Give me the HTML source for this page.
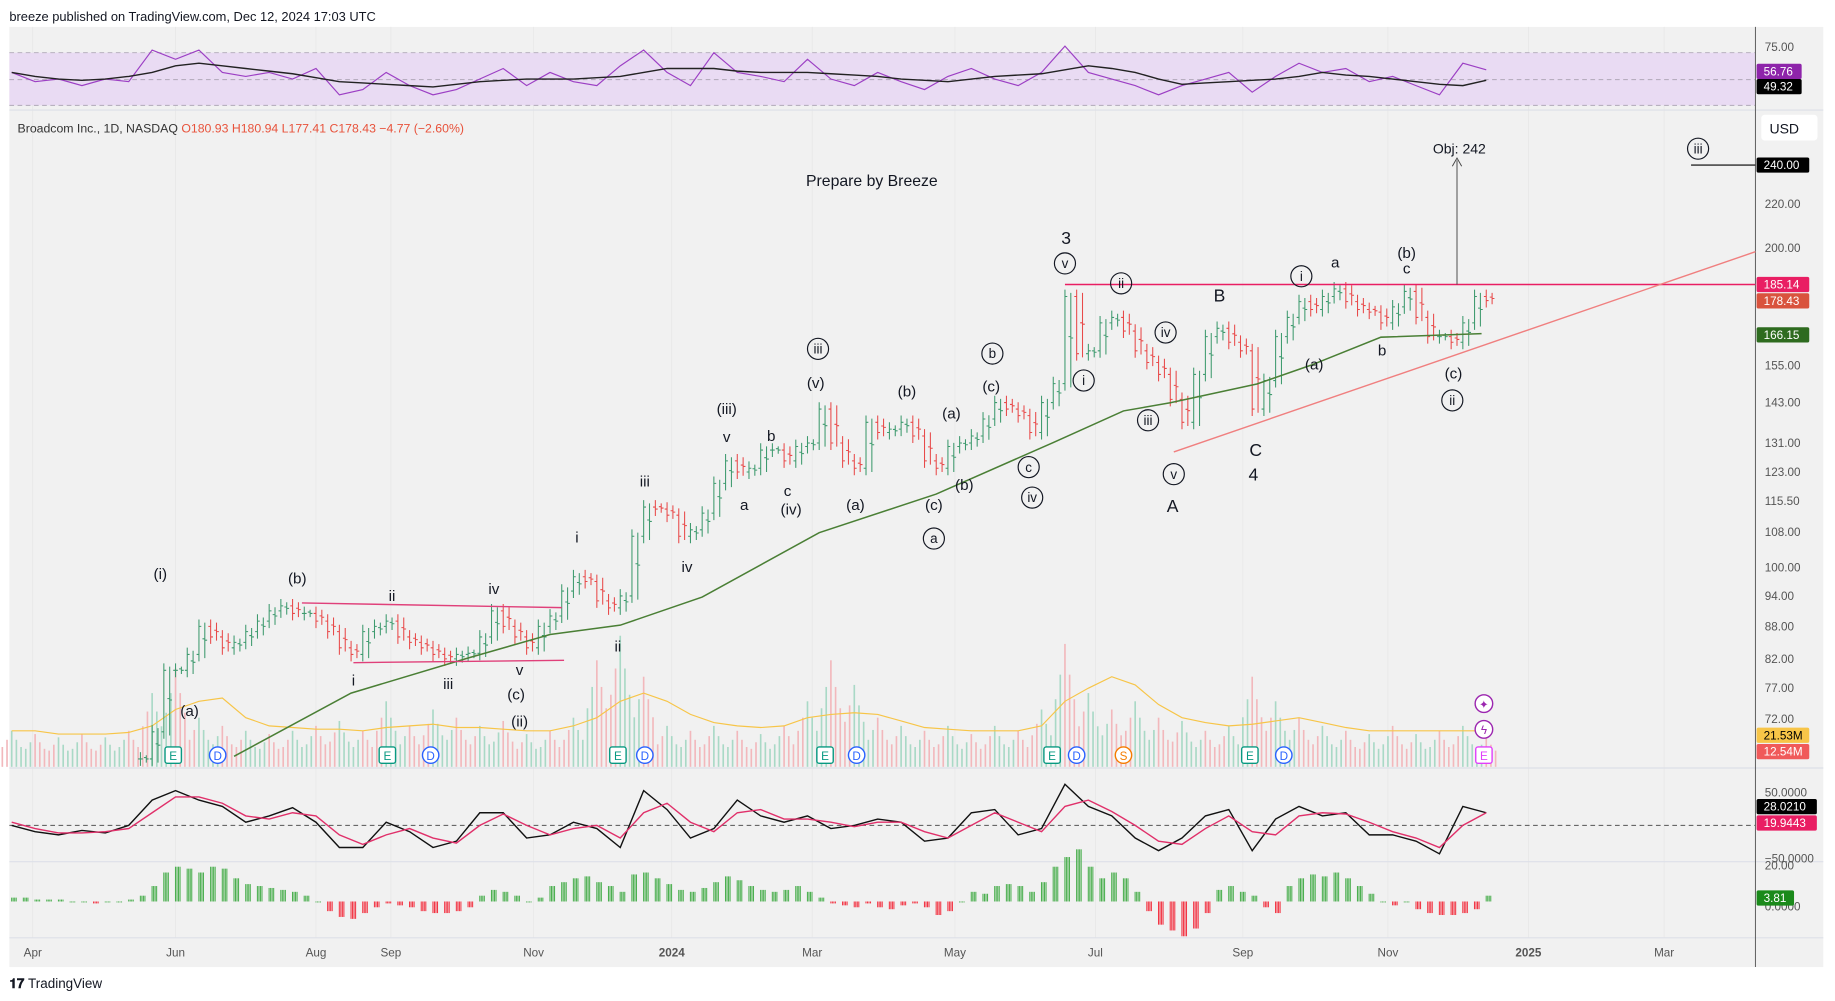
<!DOCTYPE html>
<html><head><meta charset="utf-8"><style>
html,body{margin:0;padding:0;background:#fff;width:1835px;height:1001px;overflow:hidden}
svg{display:block}
text{font-family:"Liberation Sans",sans-serif}
</style></head><body>
<svg id="c" width="1835" height="1001" viewBox="0 0 1568 855" preserveAspectRatio="none" xmlns="http://www.w3.org/2000/svg">
<rect x="0" y="0" width="1568" height="855" fill="#ffffff"/>
<text x="8" y="18" font-size="11" fill="#131722">breeze published on TradingView.com, Dec 12, 2024 17:03 UTC</text>
<rect x="8" y="23" width="1550" height="803" fill="#f1f1f1"/>
<g id="grid"></g>
<rect x="8" y="45" width="1492" height="45" fill="#e9dbf3"/>
<line x1="8" y1="45" x2="1500" y2="45" stroke="#b0a8b8" stroke-dasharray="4,3" stroke-width="0.8"/>
<line x1="8" y1="68" x2="1500" y2="68" stroke="#b0a8b8" stroke-dasharray="4,3" stroke-width="0.8"/>
<line x1="8" y1="90" x2="1500" y2="90" stroke="#b0a8b8" stroke-dasharray="4,3" stroke-width="0.8"/>
<line x1="8" y1="94" x2="1558" y2="94" stroke="#dde0e8" stroke-width="1"/>
<line x1="8" y1="656" x2="1558" y2="656" stroke="#dde0e8" stroke-width="1"/>
<line x1="8" y1="736" x2="1558" y2="736" stroke="#dde0e8" stroke-width="1"/>
<line x1="8" y1="801" x2="1558" y2="801" stroke="#dde0e8" stroke-width="1"/>
<line x1="1500" y1="23" x2="1500" y2="826" stroke="#555" stroke-width="0.8"/>
<line x1="8" y1="705" x2="1500" y2="705" stroke="#555" stroke-dasharray="4,3" stroke-width="0.8"/>
<g id="vol"></g><g id="rsi"></g><g id="price"></g><g id="osc"></g><g id="hist"></g>
<g id="draw">
<line x1="258" y1="515" x2="480" y2="519" stroke="#e0407a" stroke-width="1.2"/>
<line x1="302" y1="566" x2="482" y2="564" stroke="#e0407a" stroke-width="1.2"/>
<line x1="910" y1="243" x2="1500" y2="243" stroke="#e91e63" stroke-width="1.2"/>
<line x1="1003" y1="386" x2="1500" y2="215" stroke="#f07f7f" stroke-width="1.2"/>
<line x1="1245" y1="243" x2="1245" y2="137" stroke="#444" stroke-width="0.8"/>
<path d="M1241,142 L1245,135 L1249,142" fill="none" stroke="#444" stroke-width="0.8"/>
<line x1="1445" y1="141" x2="1500" y2="141" stroke="#000" stroke-width="1"/>
</g>
<g id="labels" font-size="13" fill="#131722" text-anchor="middle"></g>
<g id="axis" font-size="10" fill="#555"></g>
<text x="15" y="113" font-size="10.5" fill="#333">Broadcom Inc., 1D, NASDAQ <tspan fill="#e8523b">O180.93 H180.94 L177.41 C178.43 −4.77 (−2.60%)</tspan></text>
<text x="745" y="159" font-size="13.5" text-anchor="middle" fill="#131722">Prepare by Breeze</text>
<text x="1247" y="131" font-size="12" text-anchor="middle" fill="#131722">Obj: 242</text>
<rect x="1505" y="98" width="48" height="22" rx="3" fill="#fff"/>
<text x="1512" y="114" font-size="12" fill="#131722">USD</text>
<g id="events"></g>
<text x="8" y="844" font-size="11.5" font-weight="bold" fill="#131722">𝟏𝟕 <tspan font-weight="normal">TradingView</tspan></text>
</svg>
<script>
const NS='http://www.w3.org/2000/svg';
function mk(tag,attrs,parent){const e=document.createElementNS(NS,tag);for(const k in attrs)e.setAttribute(k,attrs[k]);document.getElementById(parent).appendChild(e);return e;}
// ---- data ----
const priceStartDay=-227, priceStepDays=5;
const closes=[66,70,80,80,82.8,88,86,84,85,87,89,91,92,90.5,90.5,89,87,84,82.8,87,88,89,86,85,84,82.8,82,82.8,83,86,91,88,86,84,88,90,95,98,97,93,91.6,94,107,114,113.5,112,107,108.5,112.5,120,126,123,124,129,129,126,130,131,141,131,126,124,137,134,135,137,133,126,124,130,131,133,138,143,141,139,134,143,149,180,159,160,170,172,167,160,156,152,144,137,152,165,168,163,160,141,150,165,172,178,175,180,183,178,175,174,170,176,182,172,165,165,163,170,180,178.43];
const maPoints=[[-187,646],[-137,592],[-87,562],[-52,542],[-22,534],[13,510],[63,455],[113,422],[163,378],[193,351],[213,344],[250,328],[273,312],[303,288],[346,285]];
const maValues=maPoints.map(p=>240*Math.exp(-(p[1]-140)/393.7));
const seriesStartDay=-282, seriesStepDays=10;
const volumes=[22,20,18,20,18,22,45,60,30,25,22,20,22,25,28,22,40,25,35,30,25,28,20,22,30,65,80,55,25,22,25,22,20,25,40,65,50,30,25,22,25,20,25,22,35,75,45,35,40,30,28,22,25,55,40,30,25,22,20,25,20,22,25,18];
const volumeMA=[22,22,20,20,20,21,25,35,40,42,30,25,24,23,23,22,24,25,26,24,24,23,22,22,25,30,40,45,40,32,27,25,24,25,30,32,33,32,28,24,23,22,22,22,25,40,48,55,50,38,30,27,25,26,28,30,27,24,22,22,22,22,22,22];
const rsi=[55,48,50,45,50,48,72,65,72,55,52,55,50,58,38,42,55,45,38,42,50,58,45,55,48,45,60,72,55,45,70,55,52,48,65,50,45,55,48,42,52,58,50,45,55,75,55,50,45,38,45,50,55,40,52,62,55,58,48,52,45,38,62,57];
const rsiMA=[55,52,50,49,50,52,55,60,62,60,58,56,54,51,48,47,46,45,44,46,48,49,50,50,50,51,52,55,58,58,58,56,55,55,55,54,53,52,50,49,48,50,52,53,54,57,60,58,55,50,46,47,48,49,50,52,55,53,52,50,48,46,45,49];
const oscK=[0,-10,-15,-8,-12,0,40,55,40,30,5,15,28,5,-35,-35,5,-10,-35,-25,20,20,-20,-15,5,-5,-35,55,25,-20,-5,40,15,5,15,-5,0,10,5,-25,-20,20,25,-15,-5,65,30,15,-20,-40,-20,15,25,-40,10,30,15,20,-15,-15,-25,-45,30,20];
const oscD=[5,-5,-12,-12,-10,-5,20,45,45,35,15,10,20,15,-15,-30,-15,-5,-20,-28,0,18,0,-15,-5,0,-20,20,35,5,-10,20,25,10,10,5,-2,5,5,-10,-20,0,20,5,-10,30,40,22,0,-25,-30,-5,15,-10,-15,15,20,18,5,-10,-20,-35,0,20];
const histStepDays=5;
const hist=[2,2,1,1,1,0,0,-1,0,0,1,3,8,15,18,17,15,18,17,12,9,8,7,6,5,3,0,-5,-8,-9,-6,-3,-1,-2,-3,-5,-6,-6,-5,-3,3,6,5,3,0,2,8,10,12,13,10,8,5,14,15,12,9,6,5,7,10,13,11,8,6,5,6,8,5,2,-1,-2,-3,-1,-3,-4,-2,-1,-3,-7,-5,0,5,4,8,9,8,5,10,18,23,27,18,12,15,12,5,-5,-12,-15,-18,-14,-6,6,8,5,3,-3,-6,8,12,14,13,15,12,8,4,0,-2,0,-4,-6,-7,-7,-6,-4,3];
const priceTicks=[240,220,200,155,143,131,123,115.5,108,100,94,88,82,77,72];
const timeTicks=[['Apr',-273],['Jun',-212],['Aug',-152],['Sep',-120],['Nov',-59],['2024',0],['Mar',60],['May',121],['Jul',181],['Sep',244],['Nov',306],['2025',366],['Mar',424]];
// ---- scales ----
const xOf=d=>574+2*d;
const yP=p=>140+(Math.log(240)-Math.log(p))*393.7;
const yRsi=v=>45+(70-v)*1.125;
const yVol=v=>655-v*1.4;
const yOsc=v=>705-v*0.54;
const yHist=v=>770-v*1.65;
// grid
timeTicks.forEach(t=>{const l=mk('line',{x1:xOf(t[1]),x2:xOf(t[1]),y1:23,y2:801,stroke:'#e6e6e6','stroke-width':0.6},'grid');

});
// price bars
closes.forEach((c,i)=>{const o=i?closes[i-1]:c;const d=priceStartDay+i*priceStepDays;const x=xOf(d);
const hi=Math.max(o,c)*1.015,lo=Math.min(o,c)*0.985;const col=c>=o?'#3e9a6e':'#e84a4a';
const g=mk('g',{stroke:col,'stroke-width':0.9},'price');


const e=document.createElementNS(NS,'path');e.setAttribute('d',`M${x},${yP(hi)}V${yP(lo)}M${x-2},${yP(o)}H${x}M${x},${yP(c)}H${x+2}`);g.appendChild(e);
const m=(o+c)/2,x2=x+5;const e2=document.createElementNS(NS,'path');e2.setAttribute('d',`M${x2},${yP(Math.max(o,c)*1.008)}V${yP(Math.min(o,c)*0.992)}M${x2-2},${yP(m*1.003)}H${x2}M${x2},${yP(m)}H${x2+2}`);e2.setAttribute('stroke',col);g.appendChild(e2);});
// MA
const ma=mk('polyline',{points:maPoints.map((p,i)=>xOf(p[0])+','+yP(maValues[i])).join(' '),fill:'none',stroke:'#4a7f35','stroke-width':1.3},'price');


// volume
volumes.forEach((v,i)=>{const d=seriesStartDay+i*seriesStepDays;[0,-2,2,-4,4].forEach((o,k)=>{const vv=v*(k?(k>2?0.55:0.75):1);
const r=mk('rect',{x:xOf(d)+o*2-0.7,y:yVol(vv),width:1.4,height:655-yVol(vv),fill:(i+k)%2?'#f2b8bc':'#a9d9c6'},'vol');

});});
const vm=mk('polyline',{points:volumeMA.map((v,i)=>xOf(seriesStartDay+i*seriesStepDays)+','+yVol(v)).join(' '),fill:'none',stroke:'#f7c548','stroke-width':1},'vol');


// rsi
const rl=mk('polyline',{points:rsi.map((v,i)=>xOf(seriesStartDay+i*seriesStepDays)+','+yRsi(v)).join(' '),fill:'none',stroke:'#9c3fc4','stroke-width':1},'rsi');


const rm=mk('polyline',{points:rsiMA.map((v,i)=>xOf(seriesStartDay+i*seriesStepDays)+','+yRsi(v)).join(' '),fill:'none',stroke:'#222','stroke-width':1.2},'rsi');


// osc
const ok=mk('polyline',{points:oscK.map((v,i)=>xOf(seriesStartDay+i*seriesStepDays)+','+yOsc(v)).join(' '),fill:'none',stroke:'#111','stroke-width':1.2},'osc');


const od=mk('polyline',{points:oscD.map((v,i)=>xOf(seriesStartDay+i*seriesStepDays)+','+yOsc(v)).join(' '),fill:'none',stroke:'#e0306a','stroke-width':1.2},'osc');


// hist
hist.forEach((v,i)=>{const x=xOf(seriesStartDay+i*histStepDays);[0,1.3,2.6,3.9].forEach(o=>{
const r=mk('rect',{x:x+o-0.5,y:Math.min(770,yHist(v)),width:0.9,height:Math.max(0.8,Math.abs(yHist(v)-770)),fill:v>=0?'#4caf50':'#f23645'},'hist');

});});
// axis labels
priceTicks.forEach(p=>{const t=mk('text',{x:1508,y:yP(p)+3.5},'axis');t.textContent=p.toFixed(2);

});
[['75.00',40],['50.0000',677],['−50.0000',733],['20.00',739],['0.0000',774]].forEach(a=>{const t=mk('text',{x:1508,y:a[1]+3.5},'axis');t.textContent=a[0];

});
timeTicks.forEach(a=>{const t=mk('text',{x:xOf(a[1]),y:817,'text-anchor':'middle','font-weight':a[0].length==4?'bold':'normal'},'axis');t.textContent=a[0];

});
[['240.00',141,'#000'],['185.14',243,'#e91e63'],['178.43',257,'#d9533d'],['166.15',286,'#2e6b1f'],['56.76',61,'#8e24aa'],['49.32',74,'#000'],['21.53M',628,'#f7c548'],['12.54M',642,'#f05a5a'],['28.0210',689,'#000'],['19.9443',703,'#e91e63'],['3.81',767,'#1b8a1b']].forEach(a=>{
const r=mk('rect',{x:1501,y:a[1]-6.5,width:a[0].length*6.5+6,height:13,rx:1.5,fill:a[2]},'axis');


const t=mk('text',{x:1507,y:a[1]+3.5,fill:a[2]=='#f7c548'?'#000':'#fff'},'axis');t.textContent=a[0];

});
// wave labels
const plain=[['(i)',137,490],['(b)',254,494],['ii',335,509],['iv',422,503],['i',302,581],['iii',383,584],['v',444,572],['(c)',441,593],['(ii)',444,616],['(a)',162,607],['i',493,459],['ii',528,552],['iii',551,411],['iv',587,484],['(iii)',621,349],['v',621,373],['b',659,372],['a',636,431],['c',673,419],['(iv)',676,435],['(v)',697,327],['(a)',731,431],['(b)',775,334],['(a)',813,353],['(c)',798,431],['(b)',824,414],['(c)',847,330],['3',911,204],['A',1002,433],['B',1042,253],['C',1073,385],['4',1071,406],['a',1141,224],['(b)',1202,216],['c',1202,229],['b',1181,299],['(a)',1123,311],['(c)',1242,319]];
plain.forEach(a=>{const t=mk('text',{x:a[1],y:a[2]+4.5,'font-size':(a[0].length==1&&/[A-C34]/.test(a[0]))?15:13},'labels');t.textContent=a[0];

});
const circ=[['iii',699,298],['a',798,460],['b',848,302],['c',879,399],['iv',882,425],['v',910,225],['ii',958,242],['i',926,325],['iv',996,284],['iii',981,359],['v',1003,405],['i',1112,236],['ii',1241,342],['iii',1451,127]];
circ.forEach(a=>{const c=mk('circle',{cx:a[1],cy:a[2],r:9,fill:'none',stroke:'#131722','stroke-width':1},'labels');


const t=mk('text',{x:a[1],y:a[2]+4,'font-size':11.5},'labels');t.textContent=a[0];

});
// events
const ev=[['E',148,'#089981'],['D',186,'#2962ff'],['E',331,'#089981'],['D',368,'#2962ff'],['E',528,'#089981'],['D',551,'#2962ff'],['E',705,'#089981'],['D',732,'#2962ff'],['E',899,'#089981'],['D',920,'#2962ff'],['S',960,'#f57c00'],['E',1068,'#089981'],['D',1097,'#2962ff'],['E',1268,'#e040fb']];
ev.forEach(a=>{const c=mk(a[0]=='E'?'rect':'circle',a[0]=='E'?{x:a[1]-7,y:638,width:14,height:14,rx:2,fill:'#fff',stroke:a[2],'stroke-width':1.2}:{cx:a[1],cy:645,r:7,fill:'#fff',stroke:a[2],'stroke-width':1.2},'events');


const t=mk('text',{x:a[1],y:649,'font-size':10,'text-anchor':'middle',fill:a[2]},'events');t.textContent=a[0];

});
[601,623].forEach((y,i)=>{const c=mk('circle',{cx:1268,cy:y,r:7.5,fill:'#fff',stroke:'#9c27b0','stroke-width':1.2},'events');


const t=mk('text',{x:1268,y:y+4,'font-size':10,'text-anchor':'middle',fill:'#9c27b0'},'events');t.textContent=i?'ϟ':'✦';

});
</script>
</body></html>
